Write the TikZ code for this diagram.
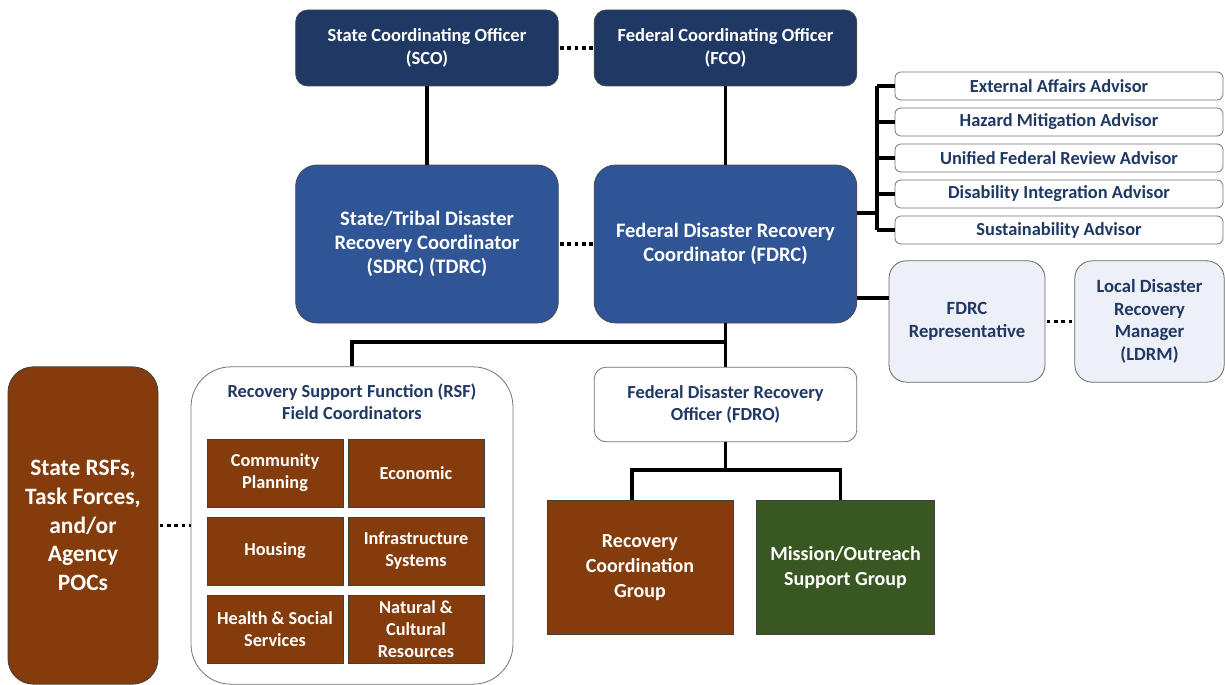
\documentclass[tikz,border=0pt]{standalone}
\usepackage{fontspec}
\setmainfont{Carlito}
\usetikzlibrary{positioning,calc}
\definecolor{navy}{HTML}{1F3864}
\definecolor{royal}{HTML}{2F5597}
\definecolor{rust}{HTML}{843C0C}
\definecolor{moss}{HTML}{385723}
\definecolor{mist}{HTML}{EDF0F7}
\definecolor{inkblue}{HTML}{1F3864}
\tikzset{
box/.style={align=center, font=\bfseries, inner sep=1pt, line width=0.6pt},
officer/.style={box, rounded corners=9pt, fill=navy, draw=black!70, text=white,
  minimum width=197pt, minimum height=57pt, font=\fontsize{13.9}{17.25}\selectfont\bfseries},
coordinator/.style={box, rounded corners=16pt, fill=royal, draw=black!70, text=white,
  minimum width=197pt, minimum height=118.5pt, font=\fontsize{15.4}{18}\selectfont\bfseries},
advisor/.style={box, rounded corners=4.5pt, fill=white, draw=black!55, text=inkblue,
  minimum width=246pt, minimum height=21pt, font=\fontsize{13.8}{16}\selectfont\bfseries},
liaison/.style={box, rounded corners=13pt, fill=mist, draw=black!60, text=inkblue,
  minimum height=91pt, font=\fontsize{14}{17}\selectfont\bfseries},
plain/.style={box, fill=white, draw=black!55, text=inkblue, font=\fontsize{13.8}{16.5}\selectfont\bfseries},
rsfbox/.style={box, fill=rust, draw=black!75, text=white, minimum width=102pt, minimum height=51pt,
  font=\fontsize{13.7}{16.5}\selectfont\bfseries},
group/.style={box, draw=black!75, text=white, minimum height=101pt,
  font=\fontsize{15}{18.75}\selectfont\bfseries},
link/.style={line width=2.4pt},
dots/.style={line width=2.6pt, dash pattern=on 2.6pt off 2.9pt, shorten <=1pt}
}
\begin{document}
\begin{tikzpicture}[x=0.75pt, y=-0.75pt]
\useasboundingbox (0,0) rectangle (1225,685);
% top row
\node[officer] (sco) at (427,48) {State Coordinating Officer\\(SCO)};
\node[officer] (fco) at (725.5,48) {Federal Coordinating Officer\\(FCO)};
\node[coordinator] (sdrc) at (427,244) {State/Tribal Disaster\\Recovery Coordinator\\(SDRC) (TDRC)};
\node[coordinator] (fdrc) at (725.5,244) {Federal Disaster Recovery\\Coordinator (FDRC)};
\draw[dots] (sco) -- (fco);
\draw[dots] (sdrc) -- (fdrc);
\draw[link] (sco) -- (sdrc);
\draw[link] (fco) -- (fdrc);
% advisors
\node[advisor] (adv1) at (1059,86) {External Affairs Advisor};
\node[advisor] (adv2) at (1059,122) {Hazard Mitigation Advisor};
\node[advisor] (adv3) at (1059,158) {Unified Federal Review Advisor};
\node[advisor] (adv4) at (1059,194) {Disability Integration Advisor};
\node[advisor] (adv5) at (1059,230) {Sustainability Advisor};
\coordinate (spine) at (877,0);
\draw[link] ([yshift=23.25pt]fdrc.east) -- ([yshift=23.25pt]fdrc.east -| spine);
\draw[link] (adv1.west -| spine) -- (adv5.west -| spine);
\foreach \i in {1,...,5}
  \draw[link] (adv\i.west -| spine) -- (adv\i.west);
% local liaison
\node[liaison, minimum width=117pt] (rep) at (967,321.5) {FDRC\\Representative};
\node[liaison, minimum width=112pt] (ldrm) at (1149.5,321.5) {Local Disaster\\Recovery\\Manager\\(LDRM)};
\draw[link] ([yshift=-40.5pt]fdrc.east) -- ([yshift=-40.5pt]fdrc.east -| rep.west);
\draw[dots] (rep) -- (ldrm);
% field structure
\node[plain, rounded corners=9pt, minimum width=197pt, minimum height=56pt] (fdro) at (725.5,404.5) {Federal Disaster Recovery\\Officer (FDRO)};
\node[plain, rounded corners=30pt, minimum width=241.5pt, minimum height=238pt] (rsf) at (352,525.5) {};
\node[plain, draw=none, fill=none, anchor=north] (rsftitle) at (352,382) {Recovery Support Function (RSF)\\Field Coordinators};
\node[box, rounded corners=19pt, fill=rust, draw=black!75, text=white, minimum width=112.5pt, minimum height=238pt,
  font=\fontsize{17.6}{21.5}\selectfont\bfseries] (staters) at (83,525.5) {State RSFs,\\Task Forces,\\and/or\\Agency\\POCs};
\draw[dots] (staters) -- (rsf);
\coordinate (split) at (725.5,342);
\draw[link] (fdrc) -- (fdro);
\draw[link] (split) -| (rsf.north);
% RSF field coordinators
\node[rsfbox] (cp) at (275,473) {Community\\Planning};
\node[rsfbox] (econ) at (416,473) {Economic};
\node[rsfbox] (hous) at (275,551) {Housing};
\node[rsfbox] (infra) at (416,551) {Infrastructure\\Systems};
\node[rsfbox] (hss) at (275,629) {Health \& Social\\Services};
\node[rsfbox] (ncr) at (416,629) {Natural \&\\Cultural\\Resources};
% groups
\node[group, fill=rust, minimum width=139.5pt] (rcg) at (640,567.5) {Recovery\\Coordination\\Group};
\node[group, fill=moss, minimum width=134pt] (mosg) at (845.5,567.5) {Mission/Outreach\\Support Group};
\coordinate (fork) at (725.5,470);
\draw[link] (fdro) -- (fork);
\draw[link] (fork) -| ([xshift=-6pt]rcg.north);
\draw[link] (fork) -| ([xshift=-4pt]mosg.north);
\end{tikzpicture}
\end{document}
